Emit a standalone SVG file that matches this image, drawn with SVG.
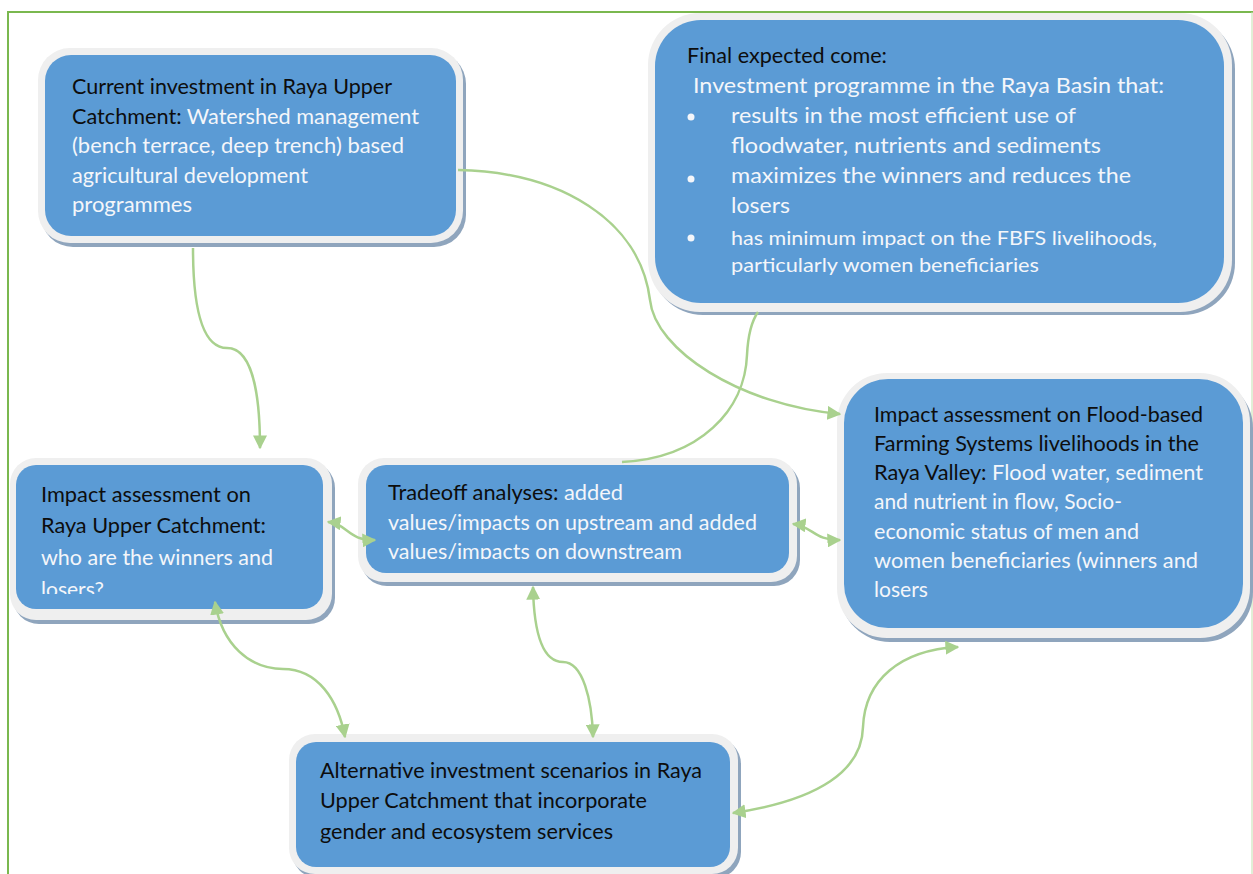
<svg xmlns="http://www.w3.org/2000/svg" width="1253" height="874" viewBox="0 0 1253 874">
<style>
.sh{fill:#8fa5bd}
.ob{fill:#efefef}
.bl{fill:#5b9bd5}
text{font-family:Lato,"Open Sans","Liberation Sans",sans-serif;font-size:21px;fill:#0d0d0d}
.w{fill:#f4f6fa}
.con{fill:none;stroke:#a9d18e;stroke-width:2.5}
</style>
<defs>
<marker id="ah" viewBox="0 0 10 10" refX="9" refY="5" markerWidth="14" markerHeight="14" markerUnits="userSpaceOnUse" orient="auto-start-reverse">
<path d="M0,0 L10,5 L0,10 z" fill="#a9d18e"/>
</marker>
<clipPath id="clip3"><rect x="0" y="440" width="340" height="154"/></clipPath>
<clipPath id="clip4"><rect x="360" y="440" width="440" height="119"/></clipPath>
</defs>
<rect width="1253" height="874" fill="#ffffff"/>
<g id="frame">
<line x1="8" y1="12" x2="1253" y2="12" stroke="#7ab84f" stroke-width="2"/>
<line x1="8" y1="11" x2="8" y2="874" stroke="#7ab84f" stroke-width="2"/>
<line x1="1252" y1="12" x2="1252" y2="874" stroke="#c3e0ae" stroke-width="1"/>
</g>
<g id="node-current">
<rect class="sh" x="41" y="52" width="425" height="195" rx="32"/>
<rect class="ob" x="38" y="48" width="425" height="195" rx="32"/>
<rect class="bl" x="45" y="55" width="411" height="181" rx="26"/>
<text x="72" y="94" textLength="320" lengthAdjust="spacingAndGlyphs">Current investment in Raya Upper</text>
<text x="72" y="123.5" textLength="347" lengthAdjust="spacingAndGlyphs">Catchment: <tspan class="w">Watershed management</tspan></text>
<text class="w" x="72" y="153" textLength="332" lengthAdjust="spacingAndGlyphs">(bench terrace, deep trench) based</text>
<text class="w" x="72" y="182.5" textLength="236" lengthAdjust="spacingAndGlyphs">agricultural development</text>
<text class="w" x="72" y="212" textLength="120" lengthAdjust="spacingAndGlyphs">programmes</text>
</g>
<g id="node-final">
<rect class="sh" x="651" y="17" width="584" height="298" rx="52"/>
<rect class="ob" x="648" y="13" width="584" height="299" rx="52"/>
<rect class="bl" x="655" y="20" width="569" height="283" rx="46"/>
<text x="687" y="63" textLength="200" lengthAdjust="spacingAndGlyphs">Final expected come:</text>
<text class="w" x="693" y="93" style="font-size:22px" textLength="471" lengthAdjust="spacingAndGlyphs">Investment programme in the Raya Basin that:</text>
<circle cx="691" cy="117" r="3.5" fill="#f4f6fa"/>
<circle cx="691" cy="179" r="3.5" fill="#f4f6fa"/>
<circle cx="691" cy="238" r="3.5" fill="#f4f6fa"/>
<text class="w" x="731" y="123" style="font-size:22px" textLength="345" lengthAdjust="spacingAndGlyphs">results in the most efficient use of</text>
<text class="w" x="731" y="153" style="font-size:22px" textLength="370" lengthAdjust="spacingAndGlyphs">floodwater, nutrients and sediments</text>
<text class="w" x="731" y="183" style="font-size:22px" textLength="400" lengthAdjust="spacingAndGlyphs">maximizes the winners and reduces the</text>
<text class="w" x="731" y="213" style="font-size:22px" textLength="59" lengthAdjust="spacingAndGlyphs">losers</text>
<text class="w" x="731" y="245" style="font-size:20px" textLength="426" lengthAdjust="spacingAndGlyphs">has minimum impact on the FBFS livelihoods,</text>
<text class="w" x="731" y="272" style="font-size:20px" textLength="308" lengthAdjust="spacingAndGlyphs">particularly women beneficiaries</text>
</g>
<g id="node-impact-upper">
<rect class="sh" x="13" y="462" width="322" height="162" rx="26"/>
<rect class="ob" x="10" y="458" width="322" height="162" rx="26"/>
<rect class="bl" x="16" y="465" width="307" height="144" rx="20"/>
<g clip-path="url(#clip3)">
<text x="41" y="502" textLength="210" lengthAdjust="spacingAndGlyphs">Impact assessment on</text>
<text x="41" y="533" textLength="225" lengthAdjust="spacingAndGlyphs">Raya Upper Catchment:</text>
<text class="w" x="41" y="565" textLength="232" lengthAdjust="spacingAndGlyphs">who are the winners and</text>
<text class="w" x="41" y="597" textLength="63" lengthAdjust="spacingAndGlyphs">losers?</text>
</g>
</g>
<g id="node-tradeoff">
<rect class="sh" x="361" y="462" width="439" height="124" rx="26"/>
<rect class="ob" x="358" y="458" width="439" height="124" rx="26"/>
<rect class="bl" x="366" y="465" width="423" height="108" rx="20"/>
<g clip-path="url(#clip4)">
<text x="388" y="500" textLength="235" lengthAdjust="spacingAndGlyphs">Tradeoff analyses: <tspan class="w">added</tspan></text>
<text class="w" x="388" y="530" textLength="369" lengthAdjust="spacingAndGlyphs">values/impacts on upstream and added</text>
<text class="w" x="388" y="559" textLength="294" lengthAdjust="spacingAndGlyphs">values/impacts on downstream</text>
</g>
</g>
<g id="node-impact-fbfs">
<rect class="sh" x="840" y="378" width="413" height="264" rx="50"/>
<rect class="ob" x="837" y="373" width="413" height="265" rx="50"/>
<rect class="bl" x="844" y="379" width="399" height="249" rx="44"/>
<text x="874" y="422" textLength="329" lengthAdjust="spacingAndGlyphs">Impact assessment on Flood-based</text>
<text x="874" y="451" textLength="325" lengthAdjust="spacingAndGlyphs">Farming Systems livelihoods in the</text>
<text x="874" y="480" textLength="329" lengthAdjust="spacingAndGlyphs">Raya Valley: <tspan class="w">Flood water, sediment</tspan></text>
<text class="w" x="874" y="509" textLength="248" lengthAdjust="spacingAndGlyphs">and nutrient in flow, Socio-</text>
<text class="w" x="874" y="539" textLength="265" lengthAdjust="spacingAndGlyphs">economic status of men and</text>
<text class="w" x="874" y="568" textLength="324" lengthAdjust="spacingAndGlyphs">women beneficiaries (winners and</text>
<text class="w" x="874" y="597" textLength="54" lengthAdjust="spacingAndGlyphs">losers</text>
</g>
<g id="node-alternative">
<rect class="sh" x="292" y="738" width="449" height="140" rx="26"/>
<rect class="ob" x="289" y="734" width="449" height="140" rx="26"/>
<rect class="bl" x="296" y="742" width="434" height="125" rx="20"/>
<text x="320" y="778" textLength="382" lengthAdjust="spacingAndGlyphs">Alternative investment scenarios in Raya</text>
<text x="320" y="808" textLength="327" lengthAdjust="spacingAndGlyphs">Upper Catchment that incorporate</text>
<text x="320" y="839" textLength="293" lengthAdjust="spacingAndGlyphs">gender and ecosystem services</text>
</g>
<g id="connectors">
<path class="con" d="M193,248 C193,330 210,348 227,348 C248,348 260,380 260,448" marker-end="url(#ah)"/>
<path class="con" d="M458,170 C560,172 640,220 650,300 C655,350 740,405 840,414" marker-end="url(#ah)"/>
<path class="con" d="M622,462 C700,458 745,410 747,355 C748,335 751,322 758,312"/>
<path class="con" d="M328,522 C348,524 348,541 375,540" marker-start="url(#ah)" marker-end="url(#ah)"/>
<path class="con" d="M793,524 C812,526 815,541 840,540" marker-start="url(#ah)" marker-end="url(#ah)"/>
<path class="con" d="M215,602 C222,645 250,669 283,669 C318,669 338,700 345,737" marker-start="url(#ah)" marker-end="url(#ah)"/>
<path class="con" d="M533,587 C534,640 545,662 563,662 C583,662 592,700 593,737" marker-start="url(#ah)" marker-end="url(#ah)"/>
<path class="con" d="M733,813 C820,800 862,770 863,727 C865,680 900,650 958,647" marker-start="url(#ah)" marker-end="url(#ah)"/>
</g>
</svg>
